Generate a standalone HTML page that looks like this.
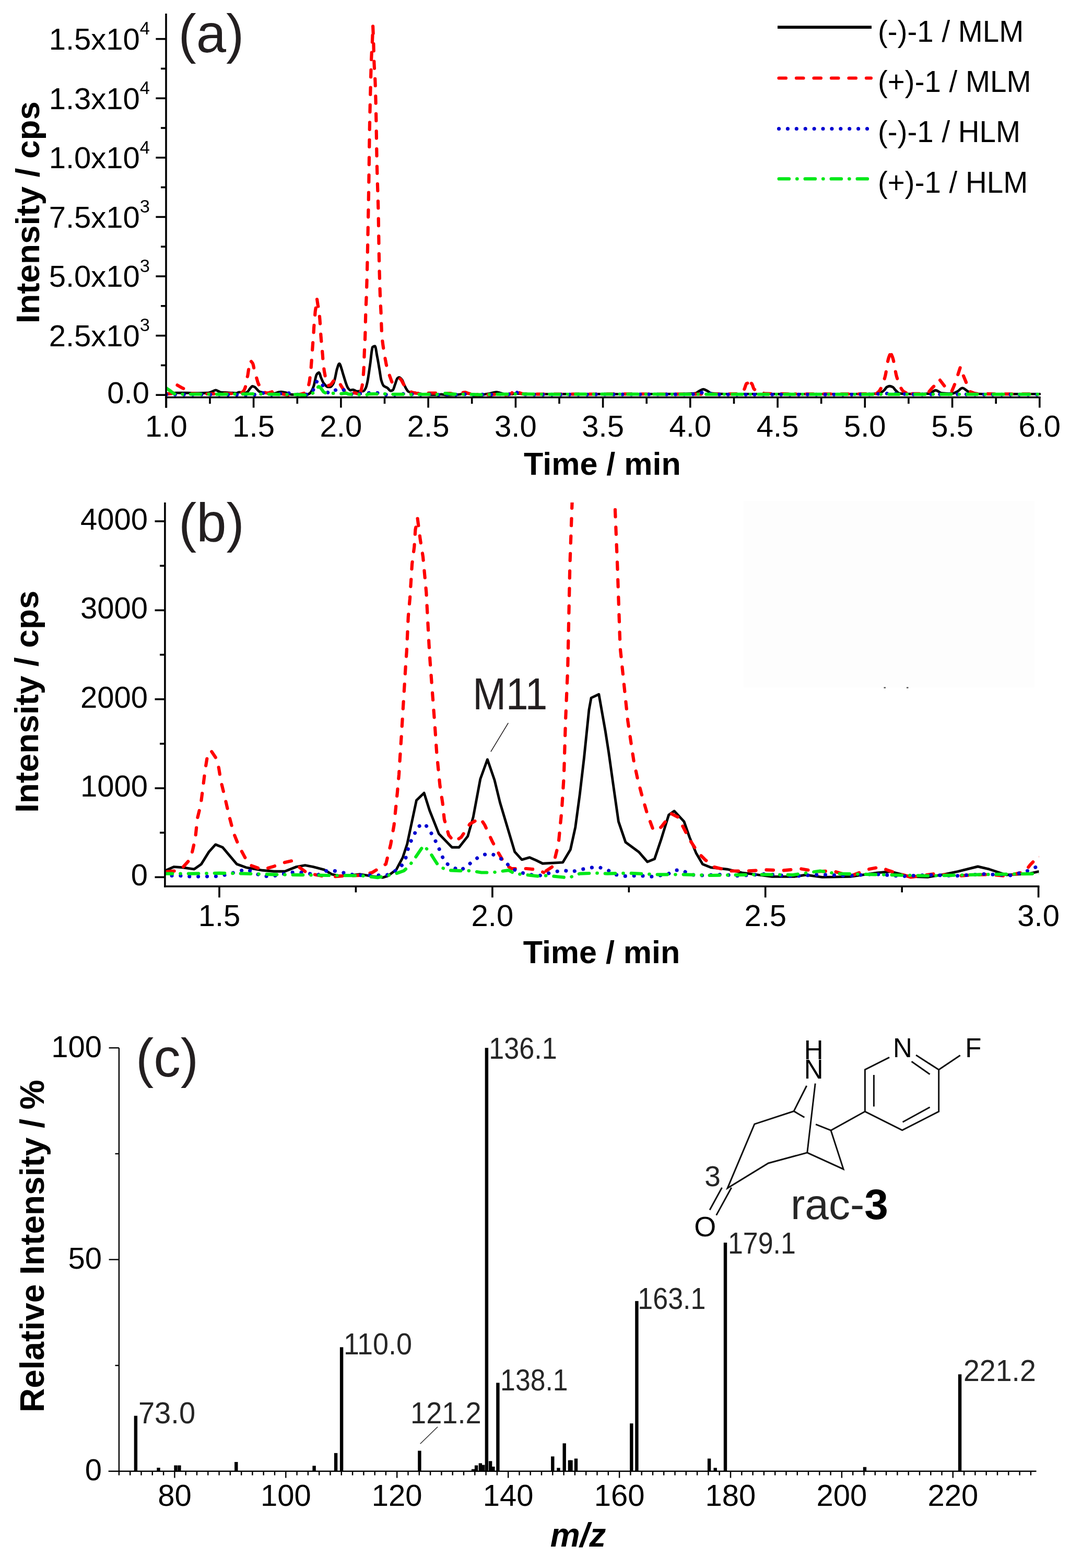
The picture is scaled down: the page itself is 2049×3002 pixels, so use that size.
<!DOCTYPE html>
<html><head><meta charset="utf-8"><title>Figure</title>
<style>html,body{margin:0;padding:0;background:#fff;} svg{display:block;} text{font-family:'Liberation Sans', Arial, Helvetica, sans-serif;}</style>
</head><body>
<svg width="2049" height="3002" viewBox="0 0 2049 3002">
<rect x="0" y="0" width="2049" height="3002" fill="#fff"/>
<defs>
<clipPath id="ca"><rect x="318" y="20" width="1675" height="741"/></clipPath>
<clipPath id="cb"><rect x="315.4" y="962" width="1674" height="735"/></clipPath>
</defs>
<g id="panel-a">
<path clip-path="url(#ca)" d="M318.4,753.5C321.7,753.2 325.1,753.0 328.4,752.8C331.8,752.6 335.1,752.1 338.5,752.1C345.2,752.1 351.8,752.3 358.5,752.3C365.2,752.4 371.9,752.6 378.6,752.6C385.3,752.6 392.0,752.5 398.7,752.2C401.5,752.1 404.2,750.4 407.0,749.4C409.0,748.6 411.1,746.9 413.1,746.9C415.0,746.9 416.8,748.6 418.7,749.4C420.4,750.0 422.1,751.1 423.8,751.2C427.7,751.5 431.6,751.5 435.5,751.7C438.8,751.8 442.2,752.1 445.5,752.3C447.8,752.5 450.2,752.9 452.5,752.9C454.3,752.9 456.1,750.9 457.9,750.9C459.6,750.9 461.2,751.1 462.9,751.2C465.3,751.4 467.8,752.1 470.3,752.1C471.7,752.1 473.2,750.7 474.6,749.5C476.2,748.2 477.7,745.0 479.3,743.2C480.6,741.8 482.0,739.5 483.3,739.5C484.7,739.5 486.2,740.2 487.6,740.9C489.0,741.6 490.3,743.6 491.7,744.9C493.2,746.5 494.8,748.8 496.3,749.5C498.2,750.4 500.1,750.9 502.0,751.2C505.4,751.9 508.7,752.4 512.1,752.7C514.4,752.9 516.7,753.2 519.1,753.2C521.3,753.2 523.5,753.2 525.8,753.2C528.1,753.2 530.5,751.4 532.8,750.9C534.6,750.6 536.4,750.1 538.2,750.1C539.8,750.1 541.5,750.6 543.2,750.9C545.4,751.3 547.6,751.7 549.9,752.4C551.4,752.9 553.0,754.3 554.5,754.7C556.1,755.1 557.7,755.5 559.2,755.5C561.5,755.5 563.7,755.4 565.9,755.3C567.9,755.2 569.9,754.7 571.9,754.7C574.4,754.7 576.8,755.5 579.3,755.7C581.4,756.0 583.5,756.4 585.6,756.4C586.8,756.4 587.9,755.9 589.0,755.5C590.7,754.9 592.3,753.9 594.0,752.4C595.3,751.2 596.7,748.8 598.0,746.1C598.9,744.4 599.8,741.9 600.7,739.3C602.6,733.5 604.5,719.4 606.4,716.9C607.9,714.9 609.5,713.2 611.1,713.2C612.2,713.2 613.3,719.4 614.4,722.1C616.3,726.6 618.2,731.7 620.1,734.1C622.8,737.4 625.5,740.9 628.1,740.9C629.6,740.9 631.0,740.9 632.5,740.9C634.3,740.9 636.0,738.1 637.8,735.3C638.9,733.5 640.1,729.4 641.2,725.5C642.6,720.5 644.1,710.5 645.5,706.1C647.0,701.7 648.4,696.1 649.9,696.1C651.3,696.1 652.8,702.5 654.2,706.6C655.3,709.8 656.4,714.6 657.6,718.1C660.6,727.5 663.6,739.3 666.6,743.2C668.0,745.1 669.5,747.2 670.9,747.2C672.5,747.2 674.1,746.1 675.6,746.1C677.0,746.1 678.3,747.0 679.6,747.6C681.0,748.1 682.3,749.2 683.7,749.2C687.8,749.2 691.9,749.1 696.0,748.7C697.6,748.5 699.1,745.4 700.7,742.1C701.7,739.9 702.7,735.4 703.7,730.7C704.6,726.4 705.5,720.0 706.4,714.1C707.3,708.2 708.2,701.9 709.1,695.2C710.1,687.6 711.1,676.5 712.1,670.8C712.5,668.3 713.0,665.0 713.4,664.6C715.0,663.3 716.5,662.8 718.1,662.8C719.4,662.8 720.8,675.0 722.1,681.7C722.8,685.0 723.5,688.6 724.1,692.4C725.0,697.4 725.9,703.1 726.8,708.4C727.9,714.9 729.0,723.9 730.1,727.8C731.6,732.9 733.0,736.9 734.5,738.4C737.2,741.1 739.8,741.2 742.5,743.2C744.3,744.6 746.1,748.4 747.9,748.4C749.3,748.4 750.8,747.8 752.2,746.9C753.6,746.1 754.9,740.4 756.2,736.9C757.8,732.9 759.4,725.9 760.9,724.4C762.0,723.3 763.1,722.4 764.3,722.4C766.3,722.4 768.3,725.1 770.3,727.8C771.4,729.3 772.5,733.4 773.6,735.8C775.0,738.7 776.3,741.6 777.6,743.8C779.0,746.0 780.3,748.8 781.7,749.5C783.3,750.5 785.0,751.0 786.7,751.2C790.0,751.8 793.4,751.7 796.7,752.2C799.7,752.5 802.7,753.5 805.7,753.9C811.9,754.8 818.0,755.9 824.1,755.9C828.7,755.9 833.3,755.9 837.8,755.9C840.2,755.9 842.5,755.0 844.9,755.0C848.2,755.0 851.6,756.2 854.9,756.2C860.7,756.2 866.5,756.1 872.3,755.9C877.8,755.8 883.2,754.4 888.7,753.9C891.4,753.7 894.0,753.3 896.7,753.3C900.8,753.3 905.0,755.7 909.1,755.9C912.5,756.1 916.0,756.2 919.5,756.2C922.9,756.2 926.4,755.3 929.8,754.7C932.5,754.3 935.2,753.8 937.9,753.3C942.0,752.6 946.1,750.7 950.2,750.7C952.6,750.7 954.9,751.6 957.3,752.2C960.7,753.0 964.2,755.0 967.6,755.0C972.2,755.0 976.8,754.8 981.3,754.5C983.3,754.3 985.4,753.3 987.4,753.3C992.9,753.3 998.5,754.3 1004.1,754.4C1020.8,754.5 1037.5,754.6 1054.3,754.6C1076.6,754.6 1098.9,754.4 1121.2,754.4C1143.5,754.4 1165.7,754.6 1188.0,754.6C1210.3,754.6 1232.6,754.5 1254.9,754.4C1271.7,754.3 1288.4,754.3 1305.1,754.2C1314.0,754.1 1323.0,753.9 1331.9,753.0C1334.1,752.8 1336.3,750.1 1338.6,748.9C1341.4,747.5 1344.1,745.2 1346.9,745.2C1349.7,745.2 1352.5,747.5 1355.3,748.9C1357.5,750.1 1359.7,752.8 1362.0,753.0C1370.9,754.0 1379.8,754.4 1388.7,754.4C1411.0,754.4 1433.3,754.4 1455.6,754.4C1477.9,754.4 1500.2,754.6 1522.5,754.6C1544.8,754.6 1567.1,754.4 1589.4,754.4C1611.7,754.4 1634.0,754.4 1656.3,754.4C1665.2,754.4 1674.2,754.1 1683.1,753.5C1686.4,753.2 1689.8,750.0 1693.1,747.1C1694.8,745.7 1696.5,742.2 1698.1,741.2C1699.9,740.2 1701.7,739.2 1703.5,739.2C1705.6,739.2 1707.7,740.1 1709.8,741.2C1711.5,742.1 1713.2,745.5 1714.9,747.1C1717.6,749.7 1720.4,753.3 1723.2,753.5C1734.4,754.2 1745.5,754.4 1756.7,754.4C1764.5,754.4 1772.3,754.1 1780.1,753.5C1783.9,753.2 1787.7,747.2 1791.4,747.2C1795.5,747.2 1799.5,752.2 1803.5,752.6C1810.2,753.2 1816.9,753.5 1823.6,753.5C1826.9,753.5 1830.2,751.1 1833.6,749.4C1836.7,747.8 1839.8,742.9 1843.0,742.9C1846.5,742.9 1850.1,747.8 1853.7,749.4C1858.1,751.3 1862.6,753.7 1867.0,753.9C1874.8,754.2 1882.7,754.3 1890.5,754.4C1901.6,754.5 1912.8,754.6 1923.9,754.6C1935.1,754.6 1946.2,754.4 1957.4,754.4C1968.5,754.4 1979.7,754.4 1990.8,754.4" fill="none" stroke="#000" stroke-width="4.9" stroke-linejoin="round" stroke-linecap="round"/>
<path clip-path="url(#ca)" d="M339.5,737.3C335.8,742.7 332.1,752.9 328.4,753.5C325.1,754.0 321.7,754.1 318.4,754.4" fill="none" stroke="#ff0000" stroke-width="6.2" stroke-linejoin="round" stroke-linecap="round" stroke-dasharray="13.5 20" stroke-dashoffset="16.75"/>
<path clip-path="url(#ca)" d="M339.5,737.3C342.5,739.1 345.5,741.0 348.5,742.6C351.3,744.0 354.1,744.5 356.9,746.4C358.5,747.5 360.2,752.3 361.9,752.6C369.7,754.0 377.5,753.8 385.3,754.4" fill="none" stroke="#ff0000" stroke-width="6.2" stroke-linejoin="round" stroke-linecap="round" stroke-dasharray="13.5 20"/>
<path clip-path="url(#ca)" d="M481.0,692.1C480.1,692.9 479.2,693.1 478.3,694.6C477.8,695.4 477.4,698.9 476.9,701.5C476.5,704.1 476.1,707.7 475.6,710.6C475.2,713.6 474.7,717.2 474.3,719.2C473.6,722.3 472.9,722.8 472.3,726.1C471.8,728.2 471.4,734.1 470.9,736.4C470.3,739.8 469.6,742.1 468.9,743.8C468.2,745.5 467.6,747.0 466.9,747.8C465.5,749.8 464.0,751.1 462.6,751.8C461.6,752.3 460.6,752.8 459.6,752.9C457.1,753.3 454.6,753.5 452.2,753.5C450.0,753.5 447.7,753.5 445.5,753.5C436.6,753.5 427.7,753.8 418.7,753.9C407.6,754.1 396.4,754.2 385.3,754.4" fill="none" stroke="#ff0000" stroke-width="6.2" stroke-linejoin="round" stroke-linecap="round" stroke-dasharray="13.5 20" stroke-dashoffset="16.75"/>
<path clip-path="url(#ca)" d="M481.0,692.1C482.0,693.3 483.0,693.8 484.0,695.8C484.4,696.6 484.9,698.5 485.3,700.4C485.8,702.2 486.2,705.4 486.6,707.2C487.4,710.5 488.2,712.5 489.0,715.2C489.9,718.4 490.8,721.9 491.7,724.9C492.6,728.0 493.4,731.3 494.3,733.5C495.5,736.3 496.6,738.4 497.7,740.4C498.9,742.6 500.1,744.5 501.4,746.1C502.5,747.6 503.6,749.5 504.7,750.1C507.2,751.4 509.6,752.4 512.1,752.4C514.4,752.4 516.7,751.3 519.1,750.7C520.9,750.2 522.7,749.4 524.4,748.9C526.3,748.5 528.2,747.8 530.1,747.8C531.2,747.8 532.4,749.6 533.5,750.4C535.5,751.8 537.5,753.6 539.5,754.1C543.6,755.2 547.7,755.4 551.9,756.1" fill="none" stroke="#ff0000" stroke-width="6.2" stroke-linejoin="round" stroke-linecap="round" stroke-dasharray="13.5 20"/>
<path clip-path="url(#ca)" d="M607.1,573.1C606.6,575.0 606.2,575.7 605.7,578.8C605.5,580.3 605.3,585.5 605.0,587.5C604.6,591.6 604.2,592.3 603.7,596.3C603.3,600.2 602.8,609.3 602.4,614.1C602.0,617.6 601.7,619.1 601.4,623.2C601.0,627.2 600.7,636.3 600.4,641.0C600.1,644.2 599.9,646.3 599.7,649.1C599.0,657.6 598.4,667.7 597.7,676.9C597.5,680.0 597.2,683.1 597.0,686.0C596.8,689.0 596.6,691.7 596.4,694.6C596.1,697.6 595.9,701.3 595.7,703.8C595.3,707.5 595.0,710.0 594.7,712.9C594.0,718.8 593.3,725.4 592.7,729.5C592.0,733.6 591.3,736.5 590.7,739.3C589.7,743.3 588.7,748.5 587.7,749.5C584.9,752.3 582.1,753.1 579.3,753.8C576.8,754.5 574.4,755.1 571.9,755.2C568.8,755.4 565.7,755.4 562.6,755.5C559.0,755.7 555.4,755.9 551.9,756.1" fill="none" stroke="#ff0000" stroke-width="6.2" stroke-linejoin="round" stroke-linecap="round" stroke-dasharray="13.5 20" stroke-dashoffset="16.75"/>
<path clip-path="url(#ca)" d="M607.1,573.1C607.6,576.7 608.2,580.6 608.7,583.8C609.3,587.0 609.8,588.9 610.4,592.6C611.1,597.0 611.7,602.9 612.4,610.7C613.0,617.2 613.5,629.4 614.1,637.3C614.3,640.4 614.5,643.3 614.7,646.1C615.8,658.4 616.8,667.8 617.8,679.8C618.1,683.8 618.4,689.0 618.8,692.4C619.1,695.8 619.4,698.1 619.8,700.9C620.1,703.8 620.4,707.2 620.8,709.5C621.3,713.3 621.9,714.9 622.4,718.6C622.8,720.8 623.1,725.1 623.4,726.7C624.3,730.8 625.2,733.3 626.1,734.7C627.2,736.4 628.4,738.1 629.5,738.1C630.9,738.1 632.4,736.9 633.8,735.8C635.6,734.5 637.4,730.1 639.2,728.9C641.3,727.5 643.4,726.1 645.5,726.1C646.4,726.1 647.3,728.2 648.2,729.5C649.8,731.9 651.3,735.5 652.9,738.1C654.0,739.9 655.1,741.6 656.2,743.2C657.7,745.4 659.1,748.3 660.6,749.5C661.9,750.6 663.2,751.8 664.6,751.8C667.6,751.8 670.6,751.8 673.6,751.8C676.0,751.8 678.3,752.1 680.6,752.4C681.9,752.6 683.1,753.4 684.3,753.8" fill="none" stroke="#ff0000" stroke-width="6.2" stroke-linejoin="round" stroke-linecap="round" stroke-dasharray="13.5 20"/>
<path clip-path="url(#ca)" d="M714.1,50.4C713.9,57.0 713.6,64.7 713.4,70.1C712.6,88.9 711.9,95.0 711.1,114.8C710.5,128.9 710.0,152.4 709.4,174.6C708.8,196.8 708.3,219.0 707.7,249.9C707.3,274.6 706.8,316.2 706.4,344.2C705.8,379.2 705.3,409.8 704.7,438.4C704.2,467.0 703.6,494.3 703.1,517.0C702.6,535.1 702.2,552.6 701.7,565.4C701.3,578.1 700.8,584.0 700.4,597.2C699.9,610.4 699.5,637.9 699.0,649.7C698.6,661.5 698.1,665.8 697.7,676.3C697.4,684.2 697.0,698.9 696.7,704.9C696.3,713.0 695.8,717.4 695.4,722.1C694.7,729.0 694.0,735.9 693.4,739.3C692.2,744.9 691.1,749.5 690.0,750.7C688.1,752.6 686.2,752.8 684.3,753.8" fill="none" stroke="#ff0000" stroke-width="6.2" stroke-linejoin="round" stroke-linecap="round" stroke-dasharray="13.5 20" stroke-dashoffset="16.75"/>
<path clip-path="url(#ca)" d="M714.1,50.4C714.4,58.5 714.8,65.2 715.1,74.6C715.5,87.1 716.0,109.4 716.4,120.0C717.1,136.0 717.8,139.4 718.4,155.7C719.0,169.3 719.6,193.4 720.1,218.5C720.7,243.6 721.2,288.2 721.8,312.8C722.7,352.2 723.6,367.6 724.5,407.0C725.0,431.6 725.6,477.4 726.1,501.3C726.8,529.9 727.5,552.7 728.1,569.6C728.6,580.9 729.0,587.1 729.5,597.2C730.0,609.7 730.6,631.6 731.1,639.0C732.7,659.5 734.3,666.2 735.8,676.3C736.5,680.7 737.2,684.0 737.8,687.8C738.4,690.9 739.0,694.4 739.5,696.9C740.3,700.5 741.1,703.3 741.9,706.1C742.7,709.2 743.6,711.9 744.5,714.6C745.5,717.6 746.5,720.6 747.5,723.2C748.9,726.6 750.2,732.4 751.6,732.4C753.1,732.4 754.7,731.5 756.2,730.7C758.4,729.5 760.5,723.8 762.6,723.8C763.9,723.8 765.3,724.7 766.6,725.5C768.9,727.0 771.3,733.6 773.6,736.9C775.4,739.5 777.2,742.0 779.0,743.8C780.3,745.1 781.7,746.1 783.0,747.1C784.9,748.5 786.8,750.4 788.7,751.0C792.0,752.1 795.4,753.0 798.7,753.0C802.3,753.0 805.8,753.0 809.4,753.0C813.0,753.0 816.6,752.5 820.1,752.5C823.8,752.5 827.5,752.7 831.2,752.7C834.6,752.7 838.1,751.9 841.5,751.9C844.9,751.9 848.2,753.3 851.6,753.3C854.8,753.3 858.0,753.0 861.3,753.0C864.9,753.0 868.6,755.6 872.3,755.6C876.0,755.6 879.7,752.9 883.3,752.2C885.7,751.7 888.0,751.0 890.4,751.0C892.0,751.0 893.7,752.2 895.4,752.7C899.9,754.1 904.5,755.0 909.1,756.2" fill="none" stroke="#ff0000" stroke-width="6.2" stroke-linejoin="round" stroke-linecap="round" stroke-dasharray="13.5 20"/>
<path clip-path="url(#ca)" d="M1435.2,732.6C1433.3,733.2 1431.4,733.3 1429.5,734.4C1428.2,735.2 1426.9,742.4 1425.5,744.8C1423.3,748.9 1421.1,753.8 1418.8,753.9C1408.8,754.3 1398.8,754.3 1388.7,754.4C1355.3,754.5 1321.8,754.6 1288.4,754.6C1254.9,754.6 1221.5,754.4 1188.0,754.4C1154.6,754.4 1121.2,754.6 1087.7,754.6C1059.8,754.6 1032.0,754.6 1004.1,754.4C1000.7,754.4 997.4,753.2 994.0,751.7C992.0,750.7 990.0,745.2 988.0,745.2C987.2,745.2 986.5,746.4 985.7,747.0C984.6,747.9 983.5,748.8 982.3,749.9C981.2,750.9 980.1,753.1 979.0,753.5C975.1,754.9 971.2,755.6 967.3,755.6C963.9,755.6 960.6,754.8 957.3,754.8C953.9,754.8 950.6,754.9 947.2,755.0C943.9,755.1 940.5,755.6 937.2,755.6C932.7,755.6 928.3,754.5 923.8,754.5C918.9,754.5 914.0,755.6 909.1,756.2" fill="none" stroke="#ff0000" stroke-width="6.2" stroke-linejoin="round" stroke-linecap="round" stroke-dasharray="13.5 20" stroke-dashoffset="-4"/>
<path clip-path="url(#ca)" d="M1435.2,732.6C1436.7,733.2 1438.1,733.4 1439.6,734.4C1441.0,735.4 1442.5,743.5 1443.9,744.8C1445.6,746.3 1447.3,747.6 1448.9,747.6C1451.2,747.6 1453.4,747.6 1455.6,747.6C1458.4,747.6 1461.2,753.4 1464.0,753.5C1483.5,754.3 1503.0,754.1 1522.5,754.4" fill="none" stroke="#ff0000" stroke-width="6.2" stroke-linejoin="round" stroke-linecap="round" stroke-dasharray="13.5 20" stroke-dashoffset="-4"/>
<path clip-path="url(#ca)" d="M1705.5,675.4C1704.2,678.9 1702.8,681.2 1701.5,685.8C1699.2,693.3 1697.0,713.9 1694.8,721.5C1690.9,734.8 1687.0,745.3 1683.1,749.3C1680.8,751.6 1678.6,753.9 1676.4,753.9C1669.7,754.1 1663.0,754.1 1656.3,754.2C1634.0,754.3 1611.7,754.4 1589.4,754.4C1567.1,754.4 1544.8,754.4 1522.5,754.4" fill="none" stroke="#ff0000" stroke-width="6.2" stroke-linejoin="round" stroke-linecap="round" stroke-dasharray="13.5 20" stroke-dashoffset="-4"/>
<path clip-path="url(#ca)" d="M1705.5,675.4C1706.9,678.9 1708.4,681.3 1709.8,685.8C1712.3,693.4 1714.7,713.8 1717.2,721.5C1721.4,734.7 1725.7,746.1 1729.9,749.3C1733.3,751.8 1736.6,752.4 1739.9,753.9" fill="none" stroke="#ff0000" stroke-width="6.2" stroke-linejoin="round" stroke-linecap="round" stroke-dasharray="13.5 20" stroke-dashoffset="-4"/>
<path clip-path="url(#ca)" d="M1800.1,727.9C1795.8,732.2 1791.4,736.5 1787.1,740.7C1782.5,745.1 1778.0,753.3 1773.4,753.5C1762.2,753.8 1751.1,753.8 1739.9,753.9" fill="none" stroke="#ff0000" stroke-width="6.2" stroke-linejoin="round" stroke-linecap="round" stroke-dasharray="13.5 20" stroke-dashoffset="16.75"/>
<path clip-path="url(#ca)" d="M1800.1,727.9C1803.5,732.2 1806.8,737.0 1810.2,740.7C1814.0,744.9 1817.8,747.9 1821.6,751.5" fill="none" stroke="#ff0000" stroke-width="6.2" stroke-linejoin="round" stroke-linecap="round" stroke-dasharray="13.5 20"/>
<path clip-path="url(#ca)" d="M1838.6,704.3C1835.0,715.0 1831.5,727.1 1827.9,736.5C1825.8,742.0 1823.7,746.5 1821.6,751.5" fill="none" stroke="#ff0000" stroke-width="6.2" stroke-linejoin="round" stroke-linecap="round" stroke-dasharray="13.5 20"/>
<path clip-path="url(#ca)" d="M1838.6,704.3C1842.2,712.9 1845.7,721.2 1849.3,730.0C1851.9,736.3 1854.4,748.0 1857.0,749.4C1862.6,752.4 1868.2,753.8 1873.7,753.9C1890.5,754.3 1907.2,754.4 1923.9,754.4C1946.2,754.4 1968.5,754.4 1990.8,754.4" fill="none" stroke="#ff0000" stroke-width="6.2" stroke-linejoin="round" stroke-linecap="round" stroke-dasharray="13.5 20" stroke-dashoffset="16.75"/>
<path clip-path="url(#ca)" d="M318.4,755.3C329.5,755.3 340.7,755.3 351.8,755.3C363.0,755.3 374.1,755.1 385.3,755.1C396.4,755.1 407.6,755.2 418.7,755.3C429.9,755.4 441.0,755.7 452.2,755.7C454.4,755.7 456.7,755.2 458.9,755.2C462.2,755.2 465.6,756.0 468.9,756.0C474.5,756.0 480.1,755.9 485.6,755.7C487.9,755.7 490.1,754.9 492.3,754.4C494.0,754.0 495.7,753.6 497.3,753.2C499.0,752.9 500.7,752.1 502.4,752.1C504.0,752.1 505.7,753.5 507.4,754.1C509.1,754.7 510.7,755.8 512.4,755.8C514.6,755.8 516.9,755.7 519.1,755.5C521.3,755.4 523.5,754.7 525.8,754.4C528.0,754.1 530.2,753.5 532.5,753.5C534.7,753.5 536.9,753.9 539.2,754.1C541.4,754.4 543.6,755.2 545.8,755.2C547.0,755.2 548.1,753.5 549.2,753.2C550.9,752.9 552.5,752.7 554.2,752.7C555.9,752.7 557.6,753.2 559.2,753.5C562.6,754.1 565.9,755.2 569.3,755.2C575.5,755.2 581.7,755.2 588.0,755.2C590.7,755.2 593.3,753.6 596.0,751.8C597.1,751.1 598.2,749.8 599.4,747.8C600.3,746.3 601.1,741.1 602.0,739.3C603.0,737.2 604.0,736.6 605.0,734.7C605.6,733.6 606.2,731.1 606.7,730.7C608.3,729.5 609.8,728.8 611.4,728.8C612.5,728.8 613.6,731.2 614.7,732.7C615.6,733.8 616.5,735.2 617.4,736.7C618.2,737.9 619.0,739.2 619.8,740.7C620.4,741.9 621.1,743.7 621.8,744.9C622.6,746.4 623.3,748.3 624.1,748.9C627.0,751.3 629.9,752.9 632.8,752.9C634.1,752.9 635.5,751.7 636.8,750.9C638.3,750.1 639.7,748.8 641.2,747.8C642.8,746.8 644.5,745.3 646.2,744.9C648.0,744.5 649.8,744.1 651.5,744.1C653.1,744.1 654.7,744.9 656.2,745.5C657.7,746.1 659.1,747.3 660.6,748.4C661.9,749.3 663.2,750.7 664.6,751.5C666.1,752.4 667.7,753.2 669.3,753.7C673.1,754.7 676.9,755.7 680.6,755.7C684.0,755.7 687.3,754.1 690.7,753.5C692.6,753.2 694.5,752.7 696.4,752.7C698.0,752.7 699.7,753.5 701.4,753.5C703.1,753.5 704.7,752.7 706.4,752.4C708.2,752.0 710.0,751.7 711.7,751.5C713.6,751.3 715.5,750.9 717.4,750.9C719.3,750.9 721.2,751.7 723.1,752.4C724.8,752.9 726.5,754.4 728.1,754.8C729.8,755.2 731.5,755.7 733.2,755.7C736.5,755.7 739.8,755.4 743.2,755.4C745.4,755.4 747.6,756.0 749.9,756.0C753.2,756.0 756.6,755.5 759.9,754.8C761.5,754.5 763.0,752.7 764.6,752.7C766.2,752.7 767.7,752.7 769.3,752.7C770.6,752.7 772.0,754.3 773.3,754.7C775.0,755.0 776.6,755.4 778.3,755.4C783.3,755.4 788.3,754.8 793.4,754.8C796.7,754.8 800.1,755.5 803.4,755.5C809.0,755.5 814.5,754.6 820.1,754.6C825.7,754.6 831.3,755.7 836.8,755.7C842.4,755.7 848.0,754.8 853.6,754.8C859.1,754.8 864.7,755.5 870.3,755.5C875.9,755.5 881.4,754.6 887.0,754.6C892.6,754.6 898.2,755.7 903.7,755.7C909.3,755.7 914.9,755.1 920.5,755.1C926.0,755.1 931.6,755.5 937.2,755.5C942.8,755.5 948.3,754.6 953.9,754.6C959.5,754.6 965.1,755.3 970.6,755.3C974.5,755.3 978.4,753.8 982.3,752.6C984.0,752.0 985.7,750.3 987.4,750.3C989.6,750.3 991.8,754.2 994.0,754.4C1003.0,755.1 1011.9,755.3 1020.8,755.3C1065.4,755.3 1110.0,755.1 1154.6,755.1C1210.3,755.1 1266.1,755.1 1321.8,755.1C1330.2,755.1 1338.6,751.7 1346.9,751.7C1355.3,751.7 1363.7,755.0 1372.0,755.1C1411.0,755.3 1450.1,755.3 1489.1,755.3C1544.8,755.3 1600.6,755.2 1656.3,755.1C1671.9,755.0 1687.5,753.5 1703.1,753.5C1721.0,753.5 1738.8,755.1 1756.7,755.1C1779.0,755.1 1801.3,754.8 1823.6,754.8C1834.7,754.8 1845.9,755.0 1857.0,755.1C1901.6,755.2 1946.2,755.2 1990.8,755.3" fill="none" stroke="#0000d0" stroke-width="7" stroke-linejoin="round" stroke-linecap="round" stroke-dasharray="0.1 16.8"/>
<path clip-path="url(#ca)" d="M318.4,743.0C320.6,744.5 322.9,746.1 325.1,747.6C328.4,749.8 331.8,753.9 335.1,754.2C340.7,754.6 346.3,754.8 351.8,754.8C363.0,754.8 374.1,754.6 385.3,754.6C396.4,754.6 407.6,754.8 418.7,754.8C429.9,754.8 441.0,754.4 452.2,754.4C457.8,754.4 463.3,754.4 468.9,754.4C474.5,754.4 480.1,754.1 485.6,754.1C491.2,754.1 496.8,754.3 502.4,754.4C507.9,754.5 513.5,754.7 519.1,754.8C524.7,754.9 530.2,755.0 535.8,755.1C541.4,755.1 547.0,755.3 552.5,755.3C559.0,755.3 565.5,755.3 571.9,755.4C575.5,755.4 579.1,756.4 582.6,756.4C586.0,756.4 589.3,755.4 592.7,754.7C594.7,754.3 596.7,753.8 598.7,752.9C599.8,752.4 600.9,751.4 602.0,750.4C603.3,749.3 604.5,747.6 605.7,746.1C607.4,744.1 609.1,740.1 610.7,740.1C612.0,740.1 613.2,742.0 614.4,743.2C615.4,744.3 616.4,745.9 617.4,747.2C618.3,748.4 619.2,750.1 620.1,750.7C621.9,751.8 623.7,752.5 625.5,752.7C627.9,752.8 630.4,752.9 632.8,752.9C635.0,752.9 637.3,752.9 639.5,752.9C641.7,752.9 644.0,753.8 646.2,753.8C648.4,753.8 650.7,753.8 652.9,753.8C656.2,753.8 659.6,752.7 662.9,752.7C664.1,752.7 665.4,754.2 666.6,754.4C669.8,754.9 673.1,754.9 676.3,755.2C677.7,755.4 679.2,755.7 680.6,755.7C682.5,755.7 684.4,755.4 686.3,755.4C688.6,755.4 690.8,755.8 693.0,756.0C695.2,756.2 697.5,756.5 699.7,756.5C701.9,756.5 704.2,754.5 706.4,754.4C709.7,754.2 713.1,754.1 716.4,754.1C718.7,754.1 720.9,754.4 723.1,754.4C727.6,754.4 732.0,754.1 736.5,754.1C742.1,754.1 747.6,754.8 753.2,754.8C758.8,754.8 764.4,754.8 769.9,754.8C775.5,754.8 781.1,755.3 786.7,755.3C792.2,755.3 797.8,755.1 803.4,755.1C809.0,755.0 814.5,754.8 820.1,754.8C825.7,754.8 831.3,755.1 836.8,755.1C842.4,755.1 848.0,753.0 853.6,753.0C856.9,753.0 860.3,754.3 863.6,754.4C871.4,754.7 879.2,754.7 887.0,754.8C898.2,755.1 909.3,755.5 920.5,755.5C931.6,755.5 942.8,755.0 953.9,754.8C965.1,754.7 976.2,754.4 987.4,754.4C1009.7,754.4 1032.0,754.8 1054.3,754.8C1087.7,754.8 1121.2,754.6 1154.6,754.6C1210.3,754.6 1266.1,754.8 1321.8,754.8C1377.6,754.8 1433.3,754.8 1489.1,754.8C1544.8,754.8 1600.6,754.8 1656.3,754.8C1712.1,754.8 1767.8,754.8 1823.6,754.8C1879.3,754.8 1935.1,754.8 1990.8,754.8" fill="none" stroke="#00e818" stroke-width="6.2" stroke-linejoin="round" stroke-linecap="round" stroke-dasharray="19.5 15 0.5 15"/>
<g stroke="#000" stroke-width="3.6" fill="none">
<line x1="318" y1="25.9" x2="318" y2="780.7"/>
<line x1="316.2" y1="760.8" x2="1992.6" y2="760.8"/>
<line x1="298.4" y1="756.2" x2="318" y2="756.2"/>
<line x1="298.4" y1="642.6" x2="318" y2="642.6"/>
<line x1="298.4" y1="529.0" x2="318" y2="529.0"/>
<line x1="298.4" y1="415.4" x2="318" y2="415.4"/>
<line x1="298.4" y1="301.8" x2="318" y2="301.8"/>
<line x1="298.4" y1="188.2" x2="318" y2="188.2"/>
<line x1="298.4" y1="74.6" x2="318" y2="74.6"/>
<line x1="308" y1="699.4" x2="318" y2="699.4"/>
<line x1="308" y1="585.8" x2="318" y2="585.8"/>
<line x1="308" y1="472.2" x2="318" y2="472.2"/>
<line x1="308" y1="358.6" x2="318" y2="358.6"/>
<line x1="308" y1="245.0" x2="318" y2="245.0"/>
<line x1="308" y1="131.4" x2="318" y2="131.4"/>
<line x1="318.4" y1="760.8" x2="318.4" y2="780.5"/>
<line x1="485.6" y1="760.8" x2="485.6" y2="780.5"/>
<line x1="652.9" y1="760.8" x2="652.9" y2="780.5"/>
<line x1="820.1" y1="760.8" x2="820.1" y2="780.5"/>
<line x1="987.4" y1="760.8" x2="987.4" y2="780.5"/>
<line x1="1154.6" y1="760.8" x2="1154.6" y2="780.5"/>
<line x1="1321.8" y1="760.8" x2="1321.8" y2="780.5"/>
<line x1="1489.1" y1="760.8" x2="1489.1" y2="780.5"/>
<line x1="1656.3" y1="760.8" x2="1656.3" y2="780.5"/>
<line x1="1823.6" y1="760.8" x2="1823.6" y2="780.5"/>
<line x1="1990.8" y1="760.8" x2="1990.8" y2="780.5"/>
<line x1="402.0" y1="760.8" x2="402.0" y2="773"/>
<line x1="569.3" y1="760.8" x2="569.3" y2="773"/>
<line x1="736.5" y1="760.8" x2="736.5" y2="773"/>
<line x1="903.7" y1="760.8" x2="903.7" y2="773"/>
<line x1="1071.0" y1="760.8" x2="1071.0" y2="773"/>
<line x1="1238.2" y1="760.8" x2="1238.2" y2="773"/>
<line x1="1405.5" y1="760.8" x2="1405.5" y2="773"/>
<line x1="1572.7" y1="760.8" x2="1572.7" y2="773"/>
<line x1="1739.9" y1="760.8" x2="1739.9" y2="773"/>
<line x1="1907.2" y1="760.8" x2="1907.2" y2="773"/>
</g>
<g font-size="58" fill="#000">
<text x="286" y="772.4" text-anchor="end">0.0</text>
<text x="287" y="662.9" text-anchor="end">2.5x10<tspan font-size="34.5" dy="-28.5">3</tspan></text>
<text x="287" y="549.3" text-anchor="end">5.0x10<tspan font-size="34.5" dy="-28.5">3</tspan></text>
<text x="287" y="435.7" text-anchor="end">7.5x10<tspan font-size="34.5" dy="-28.5">3</tspan></text>
<text x="287" y="322.1" text-anchor="end">1.0x10<tspan font-size="34.5" dy="-28.5">4</tspan></text>
<text x="287" y="208.5" text-anchor="end">1.3x10<tspan font-size="34.5" dy="-28.5">4</tspan></text>
<text x="287" y="94.9" text-anchor="end">1.5x10<tspan font-size="34.5" dy="-28.5">4</tspan></text>
<text x="318.4" y="836" text-anchor="middle">1.0</text>
<text x="485.6" y="836" text-anchor="middle">1.5</text>
<text x="652.9" y="836" text-anchor="middle">2.0</text>
<text x="820.1" y="836" text-anchor="middle">2.5</text>
<text x="987.4" y="836" text-anchor="middle">3.0</text>
<text x="1154.6" y="836" text-anchor="middle">3.5</text>
<text x="1321.8" y="836" text-anchor="middle">4.0</text>
<text x="1489.1" y="836" text-anchor="middle">4.5</text>
<text x="1656.3" y="836" text-anchor="middle">5.0</text>
<text x="1823.6" y="836" text-anchor="middle">5.5</text>
<text x="1990.8" y="836" text-anchor="middle">6.0</text>
</g>
<text x="1153.4" y="908.5" text-anchor="middle" font-size="61" font-weight="bold">Time / min</text>
<text transform="translate(74.7,406.65) rotate(-90)" text-anchor="middle" font-size="63.8" font-weight="bold">Intensity / cps</text>
<text x="341.5" y="100.3" font-size="103" fill="#231f20">(a)</text>
<line x1="1489" y1="52.1" x2="1669" y2="52.1" stroke="#000" stroke-width="5.8"/>
<text x="1681" y="79.7" font-size="56.5" fill="#000">(-)-1 / MLM</text>
<line x1="1491.5" y1="149.5" x2="1668" y2="149.5" fill="none" stroke="#ff0000" stroke-width="6.2" stroke-linejoin="round" stroke-linecap="round" stroke-dasharray="13.5 20"/>
<text x="1681" y="175.6" font-size="56.5" fill="#000">(+)-1 / MLM</text>
<line x1="1491.5" y1="246.6" x2="1665" y2="246.6" fill="none" stroke="#0000d0" stroke-width="7" stroke-linejoin="round" stroke-linecap="round" stroke-dasharray="0.1 16.8"/>
<text x="1681" y="272.3" font-size="56.5" fill="#000">(-)-1 / HLM</text>
<line x1="1491.6" y1="342.4" x2="1663" y2="342.4" fill="none" stroke="#00e818" stroke-width="6.2" stroke-linejoin="round" stroke-linecap="round" stroke-dasharray="19.5 15 0.5 15"/>
<text x="1681" y="369.3" font-size="56.5" fill="#000">(+)-1 / HLM</text>
</g>
<g id="panel-b">
<rect x="1424.3" y="959" width="556.7" height="357.6" fill="#fdfdfd"/>
<rect x="1692.5" y="1315.5" width="3.5" height="2.2" fill="#444"/><rect x="1736" y="1315.5" width="3.5" height="2.2" fill="#444"/>
<path clip-path="url(#cb)" d="M294.5,1664.9 L316.4,1667.1 L333.2,1659.6 L348.9,1660.8 L371.9,1664.1 L385.5,1654.4 L400.1,1630.9 L412.7,1616.9 L426.2,1622.2 L438.8,1637.2 L453.4,1654.4 L471.2,1660.8 L502.6,1666.3 L524.6,1668.3 L545.5,1668.3 L567.4,1659.6 L584.2,1656.6 L599.8,1659.6 L620.8,1665.1 L635.4,1673.8 L650.0,1676.8 L671.0,1676.0 L689.8,1673.8 L712.8,1677.7 L732.7,1680.1 L743.1,1676.8 L758.8,1665.1 L771.3,1641.6 L779.7,1615.9 L797.5,1532.2 L812.1,1518.2 L822.6,1551.5 L840.4,1596.4 L865.5,1622.2 L879.1,1622.2 L895.8,1600.9 L906.2,1564.4 L919.8,1491.5 L933.4,1454.0 L947.0,1493.5 L957.5,1536.5 L985.7,1630.9 L999.3,1645.8 L1014.0,1641.6 L1026.5,1647.0 L1039.1,1653.3 L1077.8,1651.1 L1092.4,1626.4 L1101.8,1583.7 L1110.2,1521.5 L1118.5,1450.6 L1127.9,1359.3 L1132.1,1336.1 L1146.8,1329.3 L1159.3,1400.0 L1165.6,1440.1 L1174.0,1500.0 L1184.4,1572.9 L1198.0,1612.6 L1223.1,1630.9 L1239.8,1650.1 L1253.4,1644.6 L1266.0,1607.2 L1280.6,1560.2 L1291.1,1552.7 L1309.9,1572.9 L1320.4,1602.9 L1332.9,1632.9 L1345.5,1654.4 L1361.2,1660.8 L1392.5,1664.2 L1420.8,1670.9 L1478.3,1678.4 L1521.1,1678.4 L1543.1,1675.0 L1574.5,1679.4 L1628.9,1678.4 L1680.1,1670.9 L1705.2,1668.7 L1743.9,1678.4 L1776.3,1679.4 L1808.7,1673.9 L1833.8,1668.7 L1872.5,1659.0 L1894.5,1664.2 L1926.9,1675.0 L1969.8,1672.9 L1988.6,1668.7 L2040.9,1672.6" fill="none" stroke="#000" stroke-width="4.9" stroke-linejoin="round" stroke-linecap="round"/>
<path clip-path="url(#cb)" d="M405.3,1439.0 L397.0,1448.6 L392.8,1474.3 L388.6,1508.5 L384.4,1540.7 L378.1,1566.5 L374.0,1605.1 L367.7,1632.9 L361.4,1648.1 L347.8,1663.0 L338.4,1667.1 L315.4,1669.2 L294.5,1669.2 L210.8,1670.9 L106.3,1672.6" fill="none" stroke="#ff0000" stroke-width="6.2" stroke-linejoin="round" stroke-linecap="round" stroke-dasharray="13.5 20" stroke-dashoffset="16.75"/>
<path clip-path="url(#cb)" d="M405.3,1439.0 L414.7,1452.8 L418.9,1470.0 L423.1,1495.8 L430.4,1525.7 L438.8,1562.2 L447.2,1594.4 L457.6,1620.1 L469.1,1641.6 L479.6,1656.6 L502.6,1665.1 L524.6,1658.6 L541.3,1652.1 L559.1,1648.1 L569.5,1657.6 L588.3,1671.6 L627.0,1679.1" fill="none" stroke="#ff0000" stroke-width="6.2" stroke-linejoin="round" stroke-linecap="round" stroke-dasharray="13.5 20"/>
<path clip-path="url(#cb)" d="M799.6,992.9 L795.4,1014.2 L793.3,1047.1 L789.1,1079.8 L784.9,1146.5 L781.8,1180.6 L778.7,1247.6 L776.6,1277.9 L770.3,1382.1 L768.2,1416.4 L766.1,1448.6 L764.0,1482.8 L760.9,1517.2 L754.6,1579.4 L748.3,1615.9 L738.9,1654.4 L712.8,1670.5 L689.8,1675.8 L660.5,1676.8 L627.0,1679.1" fill="none" stroke="#ff0000" stroke-width="6.2" stroke-linejoin="round" stroke-linecap="round" stroke-dasharray="13.5 20" stroke-dashoffset="16.75"/>
<path clip-path="url(#cb)" d="M799.6,992.9 L804.8,1033.1 L810.0,1066.0 L816.3,1133.9 L821.5,1233.6 L823.6,1266.5 L833.0,1392.9 L836.2,1440.1 L839.3,1472.3 L842.5,1504.3 L847.7,1538.5 L850.8,1568.7 L859.2,1598.7 L869.6,1611.4 L883.2,1602.9 L900.0,1577.2 L919.8,1566.5 L928.2,1579.4 L942.9,1611.4 L953.3,1630.9 L966.9,1654.4 L979.5,1663.0 L1007.7,1663.0 L1029.6,1665.1 L1041.2,1670.5" fill="none" stroke="#ff0000" stroke-width="6.2" stroke-linejoin="round" stroke-linecap="round" stroke-dasharray="13.5 20"/>
<path clip-path="url(#cb)" d="M1134.2,-966.5 L1132.1,-892.9 L1124.8,-725.1 L1119.6,-501.1 L1114.4,-218.6 L1110.2,134.8 L1104.9,488.0 L1099.7,782.7 L1095.5,963.9 L1091.3,1083.2 L1087.2,1280.1 L1083.0,1379.9 L1079.8,1487.2 L1075.7,1551.5 L1069.4,1615.9 L1058.9,1658.6 L1041.2,1670.5" fill="none" stroke="#ff0000" stroke-width="6.2" stroke-linejoin="round" stroke-linecap="round" stroke-dasharray="13.5 20" stroke-dashoffset="16.75"/>
<path clip-path="url(#cb)" d="M1134.2,-966.5 L1137.4,-875.8 L1141.5,-705.5 L1147.8,-571.8 L1153.0,-336.4 L1158.3,17.1 L1166.6,370.3 L1171.9,723.7 L1178.1,979.9 L1182.3,1083.2 L1187.6,1239.9 L1202.2,1379.9 L1208.5,1422.9 L1213.7,1457.3 L1221.0,1491.5 L1229.4,1523.5 L1238.8,1555.7 L1251.3,1590.1 L1266.0,1583.7 L1285.9,1557.9 L1298.4,1564.4 L1320.4,1607.2 L1337.1,1632.9 L1349.6,1645.3 L1367.4,1660.0 L1398.8,1667.5 L1432.3,1667.5 L1465.7,1665.4 L1500.2,1666.5 L1532.7,1663.2 L1564.0,1668.5 L1594.4,1667.5 L1628.9,1677.2 L1663.4,1664.2 L1685.3,1660.0 L1701.0,1666.5 L1743.9,1679.4" fill="none" stroke="#ff0000" stroke-width="6.2" stroke-linejoin="round" stroke-linecap="round" stroke-dasharray="13.5 20"/>
<path clip-path="url(#cb)" d="M3388.9,1590.8 L3371.1,1597.6 L3358.5,1636.8 L3337.6,1670.9 L3243.5,1672.6 L2929.8,1673.4 L2616.1,1672.6 L2302.3,1673.4 L2040.9,1672.6 L2009.5,1662.4 L1990.7,1638.2 L1983.4,1645.0 L1972.9,1655.7 L1962.5,1669.2 L1925.9,1677.2 L1894.5,1674.3 L1863.1,1675.0 L1831.7,1677.2 L1789.9,1672.9 L1743.9,1679.4" fill="none" stroke="#ff0000" stroke-width="6.2" stroke-linejoin="round" stroke-linecap="round" stroke-dasharray="13.5 20" stroke-dashoffset="-4"/>
<path clip-path="url(#cb)" d="M210.8,1676.0 L315.4,1677.7 L336.3,1675.8 L367.7,1678.5 L420.0,1677.7 L440.9,1672.6 L456.6,1668.3 L472.3,1664.1 L487.9,1671.6 L503.6,1678.0 L524.6,1676.8 L545.5,1672.6 L566.4,1669.3 L587.3,1671.6 L608.2,1675.8 L618.7,1668.3 L634.4,1666.1 L650.0,1669.3 L681.4,1675.8 L740.0,1675.8 L765.1,1663.0 L775.5,1648.1 L783.9,1615.9 L793.3,1598.7 L798.5,1583.7 L813.2,1576.8 L823.6,1591.2 L832.0,1606.1 L839.3,1621.1 L845.6,1637.2 L852.9,1652.1 L880.1,1667.1 L892.7,1659.6 L906.2,1648.1 L921.9,1637.2 L938.7,1634.1 L953.3,1639.4 L966.9,1650.1 L979.5,1661.9 L994.1,1669.9 L1029.6,1677.4 L1061.0,1669.3 L1078.8,1666.1 L1094.5,1669.3 L1110.2,1665.1 L1126.9,1661.9 L1144.7,1659.6 L1162.5,1665.1 L1178.1,1674.3 L1193.8,1677.4 L1225.2,1676.3 L1246.1,1678.5 L1277.5,1674.3 L1292.1,1666.1 L1306.8,1666.1 L1319.3,1673.6 L1335.0,1676.3 L1382.1,1674.3 L1413.4,1676.8 L1465.7,1673.4 L1518.0,1677.7 L1570.3,1674.3 L1622.6,1676.8 L1674.9,1673.4 L1727.2,1677.7 L1779.4,1675.1 L1831.7,1676.8 L1884.0,1673.4 L1936.3,1676.0 L1972.9,1665.8 L1988.6,1657.3 L2009.5,1672.6" fill="none" stroke="#0000d0" stroke-width="7" stroke-linejoin="round" stroke-linecap="round" stroke-dasharray="0.1 16.8"/>
<path clip-path="url(#cb)" d="M210.8,1674.3 L315.4,1672.6 L367.7,1672.6 L420.0,1671.6 L472.3,1672.6 L524.6,1674.3 L576.8,1675.1 L629.1,1676.0 L689.8,1676.3 L723.2,1680.1 L754.6,1673.8 L773.4,1667.1 L783.9,1657.6 L795.4,1641.6 L811.1,1618.9 L822.6,1630.9 L832.0,1645.8 L840.4,1658.6 L857.1,1666.1 L880.1,1667.1 L901.0,1667.1 L921.9,1670.5 L942.9,1670.5 L974.2,1666.1 L985.7,1672.6 L1016.1,1675.8 L1029.6,1677.4 L1047.4,1676.3 L1068.3,1678.5 L1089.3,1680.6 L1110.2,1672.6 L1141.5,1671.6 L1162.5,1672.6 L1204.3,1671.6 L1256.6,1674.3 L1308.9,1674.3 L1361.2,1676.0 L1413.4,1675.1 L1465.7,1674.3 L1518.0,1675.1 L1570.3,1667.5 L1601.7,1672.6 L1674.9,1674.3 L1779.4,1676.8 L1884.0,1674.3 L1988.6,1672.6 L2197.8,1674.3" fill="none" stroke="#00e818" stroke-width="6.2" stroke-linejoin="round" stroke-linecap="round" stroke-dasharray="19.5 15 0.5 15"/>
<g stroke="#000" stroke-width="3.6" fill="none">
<line x1="315.9" y1="962" x2="315.9" y2="1698.8"/>
<line x1="314.1" y1="1697" x2="1990.4" y2="1697"/>
<line x1="296.5" y1="1679.4" x2="316" y2="1679.4"/>
<line x1="296.5" y1="1509.1" x2="316" y2="1509.1"/>
<line x1="296.5" y1="1338.7" x2="316" y2="1338.7"/>
<line x1="296.5" y1="1168.4" x2="316" y2="1168.4"/>
<line x1="296.5" y1="998.0" x2="316" y2="998.0"/>
<line x1="306" y1="1594.2" x2="316" y2="1594.2"/>
<line x1="306" y1="1423.9" x2="316" y2="1423.9"/>
<line x1="306" y1="1253.5" x2="316" y2="1253.5"/>
<line x1="306" y1="1083.2" x2="316" y2="1083.2"/>
<line x1="420.0" y1="1697" x2="420.0" y2="1718.3"/>
<line x1="942.9" y1="1697" x2="942.9" y2="1718.3"/>
<line x1="1465.7" y1="1697" x2="1465.7" y2="1718.3"/>
<line x1="1988.6" y1="1697" x2="1988.6" y2="1718.3"/>
<line x1="681.4" y1="1697" x2="681.4" y2="1708.5"/>
<line x1="1204.3" y1="1697" x2="1204.3" y2="1708.5"/>
<line x1="1727.2" y1="1697" x2="1727.2" y2="1708.5"/>
</g>
<g font-size="58" fill="#000">
<text x="283" y="1695.4" text-anchor="end">0</text>
<text x="283" y="1525.1" text-anchor="end">1000</text>
<text x="283" y="1354.7" text-anchor="end">2000</text>
<text x="283" y="1184.4" text-anchor="end">3000</text>
<text x="283" y="1014.0" text-anchor="end">4000</text>
<text x="420.0" y="1772.5" text-anchor="middle">1.5</text>
<text x="942.9" y="1772.5" text-anchor="middle">2.0</text>
<text x="1465.7" y="1772.5" text-anchor="middle">2.5</text>
<text x="1988.6" y="1772.5" text-anchor="middle">3.0</text>
</g>
<text x="1152" y="1844.4" text-anchor="middle" font-size="61" font-weight="bold">Time / min</text>
<text transform="translate(72.5,1343.35) rotate(-90)" text-anchor="middle" font-size="63.8" font-weight="bold">Intensity / cps</text>
<text x="342" y="1036" font-size="103" fill="#231f20">(b)</text>
<text transform="translate(905.2,1357.5) scale(0.9,1)" font-size="85" fill="#231f20">M11</text>
<line x1="973.3" y1="1384.2" x2="939.9" y2="1439.1" stroke="#231f20" stroke-width="1.6"/>
</g>
<g id="panel-c">
<g fill="#000">
<rect x="256.7" y="2710.6" width="6.4" height="106.2"/>
<rect x="300.3" y="2810.0" width="6.4" height="6.8"/>
<rect x="333.3" y="2805.5" width="6.4" height="11.3"/>
<rect x="340.2" y="2805.5" width="6.4" height="11.3"/>
<rect x="449.1" y="2799.0" width="6.4" height="17.8"/>
<rect x="598.4" y="2806.3" width="6.4" height="10.5"/>
<rect x="639.9" y="2781.9" width="6.4" height="34.9"/>
<rect x="650.9" y="2579.3" width="6.4" height="237.5"/>
<rect x="800.2" y="2777.5" width="6.4" height="39.3"/>
<rect x="902.9" y="2812.7" width="6.4" height="4.1"/>
<rect x="908.9" y="2805.5" width="6.4" height="11.3"/>
<rect x="916.7" y="2801.4" width="6.4" height="15.4"/>
<rect x="922.1" y="2804.6" width="6.4" height="12.2"/>
<rect x="928.7" y="2006.2" width="6.4" height="810.6"/>
<rect x="935.9" y="2797.3" width="6.4" height="19.5"/>
<rect x="941.2" y="2807.9" width="6.4" height="8.9"/>
<rect x="950.2" y="2647.4" width="6.4" height="169.4"/>
<rect x="1055.1" y="2788.4" width="6.4" height="28.4"/>
<rect x="1066.3" y="2810.3" width="6.4" height="6.5"/>
<rect x="1077.5" y="2763.3" width="6.4" height="53.5"/>
<rect x="1087.7" y="2795.7" width="6.4" height="21.1"/>
<rect x="1090.3" y="2795.7" width="6.4" height="21.1"/>
<rect x="1099.8" y="2792.5" width="6.4" height="24.3"/>
<rect x="1206.1" y="2725.2" width="6.4" height="91.6"/>
<rect x="1216.2" y="2490.9" width="6.4" height="325.9"/>
<rect x="1354.9" y="2792.5" width="6.4" height="24.3"/>
<rect x="1366.5" y="2810.3" width="6.4" height="6.5"/>
<rect x="1385.8" y="2379.1" width="6.4" height="437.7"/>
<rect x="1652.8" y="2808.7" width="6.4" height="8.1"/>
<rect x="1834.9" y="2631.2" width="6.4" height="185.6"/>
</g>
<g stroke="#000" stroke-width="2.4" fill="none">
<line x1="227.9" y1="2006.2" x2="227.9" y2="2816.8"/>
<line x1="207.7" y1="2816.8" x2="1984.5" y2="2816.8"/>
<line x1="208.6" y1="2411.5" x2="227.9" y2="2411.5"/>
<line x1="208.6" y1="2006.2" x2="227.9" y2="2006.2"/>
<line x1="220.5" y1="2614.2" x2="227.9" y2="2614.2"/>
<line x1="220.5" y1="2208.9" x2="227.9" y2="2208.9"/>
<line x1="227.9" y1="2816.8" x2="227.9" y2="2824.5"/>
<line x1="249.2" y1="2816.8" x2="249.2" y2="2824.5"/>
<line x1="270.5" y1="2816.8" x2="270.5" y2="2824.5"/>
<line x1="291.8" y1="2816.8" x2="291.8" y2="2824.5"/>
<line x1="313.1" y1="2816.8" x2="313.1" y2="2824.5"/>
<line x1="334.4" y1="2816.8" x2="334.4" y2="2829.5"/>
<line x1="355.7" y1="2816.8" x2="355.7" y2="2824.5"/>
<line x1="377.0" y1="2816.8" x2="377.0" y2="2824.5"/>
<line x1="398.3" y1="2816.8" x2="398.3" y2="2824.5"/>
<line x1="419.6" y1="2816.8" x2="419.6" y2="2824.5"/>
<line x1="440.9" y1="2816.8" x2="440.9" y2="2824.5"/>
<line x1="462.2" y1="2816.8" x2="462.2" y2="2824.5"/>
<line x1="483.4" y1="2816.8" x2="483.4" y2="2824.5"/>
<line x1="504.7" y1="2816.8" x2="504.7" y2="2824.5"/>
<line x1="526.0" y1="2816.8" x2="526.0" y2="2824.5"/>
<line x1="547.3" y1="2816.8" x2="547.3" y2="2829.5"/>
<line x1="568.6" y1="2816.8" x2="568.6" y2="2824.5"/>
<line x1="589.9" y1="2816.8" x2="589.9" y2="2824.5"/>
<line x1="611.2" y1="2816.8" x2="611.2" y2="2824.5"/>
<line x1="632.5" y1="2816.8" x2="632.5" y2="2824.5"/>
<line x1="653.8" y1="2816.8" x2="653.8" y2="2824.5"/>
<line x1="675.1" y1="2816.8" x2="675.1" y2="2824.5"/>
<line x1="696.4" y1="2816.8" x2="696.4" y2="2824.5"/>
<line x1="717.7" y1="2816.8" x2="717.7" y2="2824.5"/>
<line x1="738.9" y1="2816.8" x2="738.9" y2="2824.5"/>
<line x1="760.2" y1="2816.8" x2="760.2" y2="2829.5"/>
<line x1="781.5" y1="2816.8" x2="781.5" y2="2824.5"/>
<line x1="802.8" y1="2816.8" x2="802.8" y2="2824.5"/>
<line x1="824.1" y1="2816.8" x2="824.1" y2="2824.5"/>
<line x1="845.4" y1="2816.8" x2="845.4" y2="2824.5"/>
<line x1="866.7" y1="2816.8" x2="866.7" y2="2824.5"/>
<line x1="888.0" y1="2816.8" x2="888.0" y2="2824.5"/>
<line x1="909.3" y1="2816.8" x2="909.3" y2="2824.5"/>
<line x1="930.6" y1="2816.8" x2="930.6" y2="2824.5"/>
<line x1="951.9" y1="2816.8" x2="951.9" y2="2824.5"/>
<line x1="973.2" y1="2816.8" x2="973.2" y2="2829.5"/>
<line x1="994.5" y1="2816.8" x2="994.5" y2="2824.5"/>
<line x1="1015.7" y1="2816.8" x2="1015.7" y2="2824.5"/>
<line x1="1037.0" y1="2816.8" x2="1037.0" y2="2824.5"/>
<line x1="1058.3" y1="2816.8" x2="1058.3" y2="2824.5"/>
<line x1="1079.6" y1="2816.8" x2="1079.6" y2="2824.5"/>
<line x1="1100.9" y1="2816.8" x2="1100.9" y2="2824.5"/>
<line x1="1122.2" y1="2816.8" x2="1122.2" y2="2824.5"/>
<line x1="1143.5" y1="2816.8" x2="1143.5" y2="2824.5"/>
<line x1="1164.8" y1="2816.8" x2="1164.8" y2="2824.5"/>
<line x1="1186.1" y1="2816.8" x2="1186.1" y2="2829.5"/>
<line x1="1207.4" y1="2816.8" x2="1207.4" y2="2824.5"/>
<line x1="1228.7" y1="2816.8" x2="1228.7" y2="2824.5"/>
<line x1="1250.0" y1="2816.8" x2="1250.0" y2="2824.5"/>
<line x1="1271.2" y1="2816.8" x2="1271.2" y2="2824.5"/>
<line x1="1292.5" y1="2816.8" x2="1292.5" y2="2824.5"/>
<line x1="1313.8" y1="2816.8" x2="1313.8" y2="2824.5"/>
<line x1="1335.1" y1="2816.8" x2="1335.1" y2="2824.5"/>
<line x1="1356.4" y1="2816.8" x2="1356.4" y2="2824.5"/>
<line x1="1377.7" y1="2816.8" x2="1377.7" y2="2824.5"/>
<line x1="1399.0" y1="2816.8" x2="1399.0" y2="2829.5"/>
<line x1="1420.3" y1="2816.8" x2="1420.3" y2="2824.5"/>
<line x1="1441.6" y1="2816.8" x2="1441.6" y2="2824.5"/>
<line x1="1462.9" y1="2816.8" x2="1462.9" y2="2824.5"/>
<line x1="1484.2" y1="2816.8" x2="1484.2" y2="2824.5"/>
<line x1="1505.5" y1="2816.8" x2="1505.5" y2="2824.5"/>
<line x1="1526.8" y1="2816.8" x2="1526.8" y2="2824.5"/>
<line x1="1548.0" y1="2816.8" x2="1548.0" y2="2824.5"/>
<line x1="1569.3" y1="2816.8" x2="1569.3" y2="2824.5"/>
<line x1="1590.6" y1="2816.8" x2="1590.6" y2="2824.5"/>
<line x1="1611.9" y1="2816.8" x2="1611.9" y2="2829.5"/>
<line x1="1633.2" y1="2816.8" x2="1633.2" y2="2824.5"/>
<line x1="1654.5" y1="2816.8" x2="1654.5" y2="2824.5"/>
<line x1="1675.8" y1="2816.8" x2="1675.8" y2="2824.5"/>
<line x1="1697.1" y1="2816.8" x2="1697.1" y2="2824.5"/>
<line x1="1718.4" y1="2816.8" x2="1718.4" y2="2824.5"/>
<line x1="1739.7" y1="2816.8" x2="1739.7" y2="2824.5"/>
<line x1="1761.0" y1="2816.8" x2="1761.0" y2="2824.5"/>
<line x1="1782.3" y1="2816.8" x2="1782.3" y2="2824.5"/>
<line x1="1803.5" y1="2816.8" x2="1803.5" y2="2824.5"/>
<line x1="1824.8" y1="2816.8" x2="1824.8" y2="2829.5"/>
<line x1="1846.1" y1="2816.8" x2="1846.1" y2="2824.5"/>
<line x1="1867.4" y1="2816.8" x2="1867.4" y2="2824.5"/>
<line x1="1888.7" y1="2816.8" x2="1888.7" y2="2824.5"/>
<line x1="1910.0" y1="2816.8" x2="1910.0" y2="2824.5"/>
<line x1="1931.3" y1="2816.8" x2="1931.3" y2="2824.5"/>
<line x1="1952.6" y1="2816.8" x2="1952.6" y2="2824.5"/>
<line x1="1973.9" y1="2816.8" x2="1973.9" y2="2824.5"/>
</g>
<g font-size="58" fill="#000">
<text x="195" y="2834.3" text-anchor="end">0</text>
<text x="195" y="2429.0" text-anchor="end">50</text>
<text x="195" y="2023.7" text-anchor="end">100</text>
<text x="334.4" y="2883" text-anchor="middle">80</text>
<text x="547.3" y="2883" text-anchor="middle">100</text>
<text x="760.2" y="2883" text-anchor="middle">120</text>
<text x="973.2" y="2883" text-anchor="middle">140</text>
<text x="1186.1" y="2883" text-anchor="middle">160</text>
<text x="1399.0" y="2883" text-anchor="middle">180</text>
<text x="1611.9" y="2883" text-anchor="middle">200</text>
<text x="1824.8" y="2883" text-anchor="middle">220</text>
</g>
<text x="1107" y="2960.7" text-anchor="middle" font-size="64" font-weight="bold" font-style="italic">m/z</text>
<text transform="translate(84.2,2385.7) rotate(-90)" text-anchor="middle" font-size="64" font-weight="bold">Relative Intensity / %</text>
<text x="260" y="2061" font-size="103" fill="#231f20">(c)</text>
<g font-size="57" fill="#262626">
<text transform="translate(264.9,2724.5) scale(0.985,1)">73.0</text>
<text transform="translate(657.9,2592.6) scale(0.948,1)">110.0</text>
<text transform="translate(786.0,2724.5) scale(0.951,1)">121.2</text>
<text transform="translate(936.3,2026.8) scale(0.915,1)">136.1</text>
<text transform="translate(958.1,2662.2) scale(0.908,1)">138.1</text>
<text transform="translate(1221.3,2506.3) scale(0.913,1)">163.1</text>
<text transform="translate(1393.9,2400) scale(0.911,1)">179.1</text>
<text transform="translate(1845,2644.3) scale(0.974,1)">221.2</text>
</g>
<line x1="804.7" y1="2764.3" x2="838.1" y2="2731.8" stroke="#333" stroke-width="1.6"/>
<g stroke="#111" stroke-width="3" fill="none" stroke-linecap="butt" stroke-linejoin="miter" stroke-miterlimit="6">
<polyline points="1544.7,2078.8 1520.1,2127.4 1444.8,2152.1 1393.1,2274.9 1471.3,2227 1545.8,2206.8 1615.1,2238.4 1591.1,2164.2 1656.4,2128"/>
<polyline points="1561.2,2074.4 1545.8,2206.8"/>
<polyline points="1520.1,2127.4 1540.4,2139.3"/>
<polyline points="1562.1,2152.6 1591.1,2164.2"/>
<polyline points="1703.1,2024.3 1656.4,2048 1656.4,2128 1727.7,2163.9 1797.7,2128 1797.7,2048 1754.1,2020.1"/>
<polyline points="1797.7,2048 1838.7,2020.5"/>
<polyline points="1745.6,2032.3 1780.6,2056.8"/>
<polyline points="1728.6,2148.2 1780.6,2119.8"/>
<polyline points="1673.4,2058 1673.4,2118.5"/>
<polyline points="1382.5,2273.7 1359.1,2316.5"/>
<polyline points="1400.7,2273.7 1371.7,2326.6"/>
</g>
<g font-size="51" fill="#000">
<text x="1558.2" y="2027.5" text-anchor="middle">H</text>
<text x="1558.2" y="2064.5" text-anchor="middle">N</text>
<text x="1728.4" y="2023.5" text-anchor="middle">N</text>
<text x="1863.8" y="2023.5" text-anchor="middle">F</text>
<text x="1350.2" y="2366.7" text-anchor="middle" font-size="54">O</text>
</g>
<text x="1364.5" y="2270.5" text-anchor="middle" font-size="55" fill="#262626">3</text>
<text x="1514" y="2333.5" font-size="82" fill="#262626">rac-<tspan font-weight="bold" fill="#000">3</tspan></text>
</g>
</svg>
</body></html>
